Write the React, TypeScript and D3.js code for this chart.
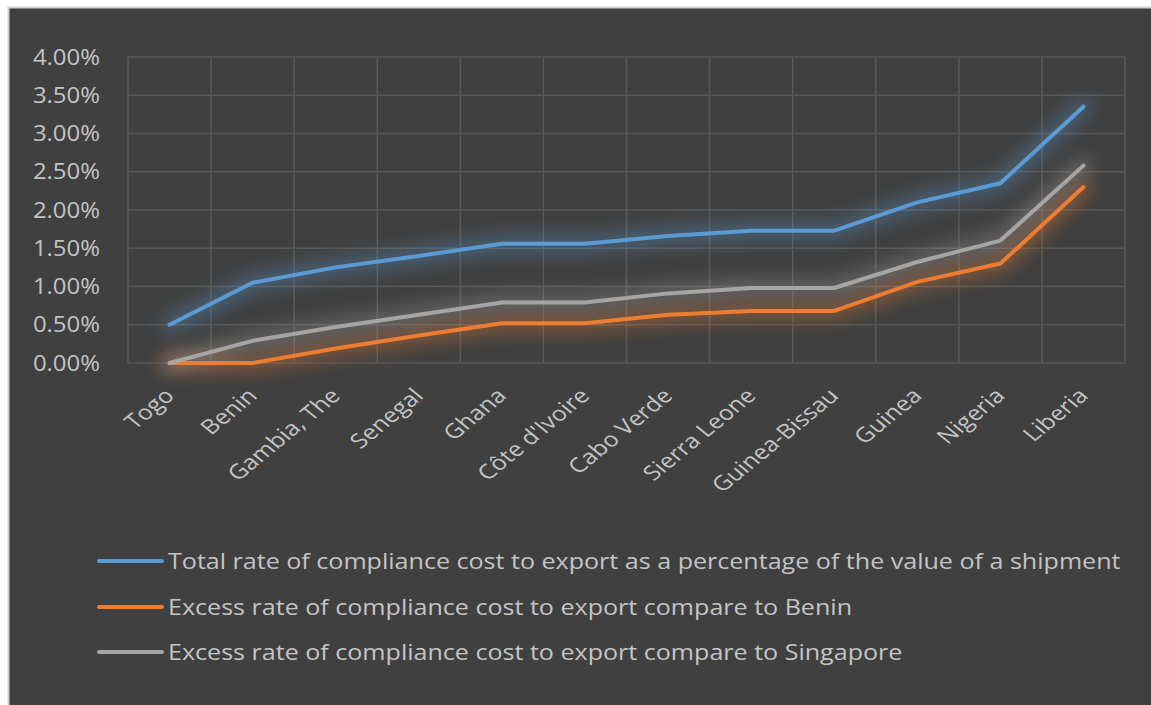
import React, { useEffect, useRef } from "react";
import * as d3 from "d3";

const categories = ["Togo", "Benin", "Gambia, The", "Senegal", "Ghana", "Côte d'Ivoire", "Cabo Verde", "Sierra Leone", "Guinea-Bissau", "Guinea", "Nigeria", "Liberia"];
const totalRate = [0.50, 1.05, 1.25, 1.40, 1.56, 1.56, 1.66, 1.73, 1.73, 2.10, 2.35, 3.35];
const excessBenin = [0.00, 0.00, 0.19, 0.36, 0.52, 0.52, 0.63, 0.68, 0.68, 1.06, 1.30, 2.30];
const excessSingapore = [0.00, 0.29, 0.47, 0.63, 0.79, 0.79, 0.91, 0.98, 0.98, 1.32, 1.60, 2.58];
const yTicks = [0, 0.5, 1, 1.5, 2, 2.5, 3, 3.5, 4];
const seriesNames = [
  "Total rate of compliance cost to export as a percentage of the value of a shipment",
  "Excess rate of compliance cost to export compare to Benin",
  "Excess rate of compliance cost to export compare to Singapore",
];
const seriesColors = ["#5b9bd5", "#ed7d31", "#a5a5a5"];

export default function App() {
  const ref = useRef<SVGSVGElement>(null);
  useEffect(() => {
    const svg = d3.select(ref.current);
    svg.selectAll("*").remove();
    const W = 1151, H = 705;
    const left = 128, right = 1125, top = 57, bottom = 363;
    const font = "'Open Sans', sans-serif";
    const textColor = "#c4c4c4";
    const sx = 1.14;

    svg.append("rect").attr("x", 8.5).attr("y", 7.5).attr("width", W).attr("height", H)
      .attr("fill", "#404040").attr("stroke", "#d0d0d0").attr("stroke-width", 2);

    const defs = svg.append("defs");
    const f = defs.append("filter").attr("id", "glow").attr("x", "-20%").attr("y", "-60%").attr("width", "140%").attr("height", "220%");
    f.append("feGaussianBlur").attr("stdDeviation", 9);

    const x = d3.scaleBand().domain(categories).range([left, right]);
    const y = d3.scaleLinear().domain([0, 4]).range([bottom, top]);

    const g = svg.append("g");
    g.selectAll("line.h").data(yTicks).enter().append("line")
      .attr("x1", left).attr("x2", right).attr("y1", d => y(d)).attr("y2", d => y(d))
      .attr("stroke", "#595959").attr("stroke-width", 1.5);
    const vx = categories.map(c => x(c)!).concat([right]);
    g.selectAll("line.v").data(vx).enter().append("line")
      .attr("x1", d => d).attr("x2", d => d).attr("y1", top).attr("y2", bottom)
      .attr("stroke", "#595959").attr("stroke-width", 1.5);

    g.selectAll("text.y").data(yTicks).enter().append("text")
      .attr("transform", d => `translate(100,${y(d)}) scale(${sx},1)`)
      .attr("dy", "0.36em")
      .attr("text-anchor", "end").attr("fill", textColor)
      .attr("font-family", font).attr("font-size", 21)
      .text(d => d.toFixed(2) + "%");

    g.selectAll("text.x").data(categories).enter().append("text")
      .attr("transform", d => `translate(${x(d)! + x.bandwidth() / 2 + 6},${bottom + 34}) scale(1.22,1) rotate(-45)`)
      .attr("text-anchor", "end").attr("fill", textColor)
      .attr("font-family", font).attr("font-size", 20.5)
      .text(d => d);

    const allSeries = [totalRate, excessBenin, excessSingapore];
    const line = d3.line<number>()
      .x((_, i) => x(categories[i])! + x.bandwidth() / 2)
      .y(d => y(d));
    [0, 1, 2].forEach(si => {
      g.append("path").datum(allSeries[si]).attr("d", line)
        .attr("fill", "none").attr("stroke", seriesColors[si]).attr("stroke-width", 16)
        .attr("stroke-opacity", 0.4).attr("stroke-linejoin", "round").attr("stroke-linecap", "round")
        .attr("filter", "url(#glow)");
    });
    [0, 1, 2].forEach(si => {
      g.append("path").datum(allSeries[si]).attr("d", line)
        .attr("fill", "none").attr("stroke", seriesColors[si]).attr("stroke-width", 4)
        .attr("stroke-linejoin", "round").attr("stroke-linecap", "round");
    });

    const ly = [561, 607, 652];
    seriesNames.forEach((n, i) => {
      g.append("line").attr("x1", 99).attr("x2", 162).attr("y1", ly[i]).attr("y2", ly[i])
        .attr("stroke", seriesColors[i]).attr("stroke-width", 4).attr("stroke-linecap", "round");
      g.append("text").attr("transform", `translate(168,${ly[i]}) scale(${sx},1)`).attr("dy", "0.36em")
        .attr("fill", textColor).attr("font-family", font).attr("font-size", 22)
        .text(n);
    });
  }, []);
  return (
    <svg ref={ref} width={1151} height={705}
      style={{ position: "absolute", left: 0, top: 0, display: "block" }} />
  );
}
